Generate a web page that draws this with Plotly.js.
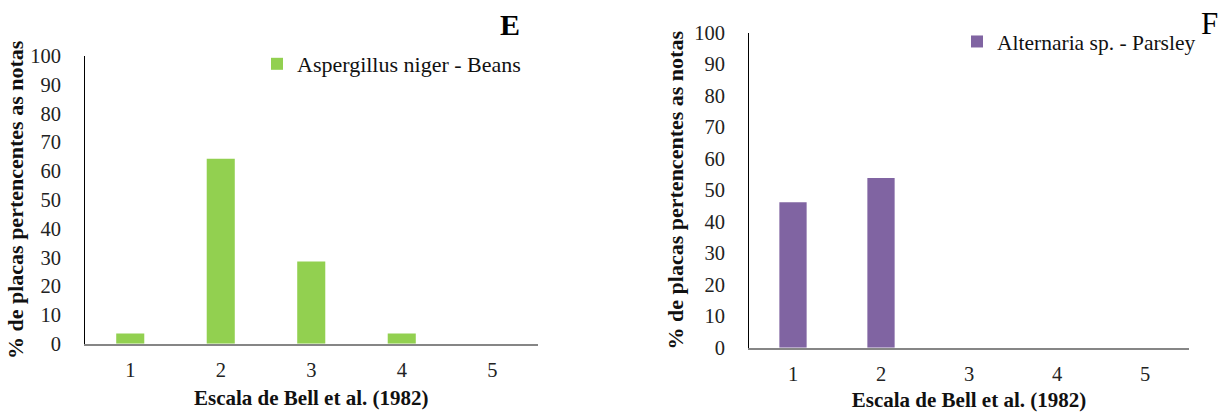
<!DOCTYPE html>
<html>
<head>
<meta charset="utf-8">
<script src="https://cdn.plot.ly/plotly-3.0.1.min.js"></script>
<style>html,body{margin:0;padding:0;background:#fff;}#chart{width:1218px;height:412px;}</style>
</head>
<body>
<div id="chart"></div>
<script>
const categories = ["1", "2", "3", "4", "5"];
const nigerBeans = [3.57, 64.29, 28.57, 3.57, 0];
const alternariaParsley = [46.15, 53.85, 0, 0, 0];
const seriesNames = ["Aspergillus niger - Beans", "Alternaria sp. - Parsley"];
const yTicks = [0, 10, 20, 30, 40, 50, 60, 70, 80, 90, 100];
const xTitle = "Escala de Bell et al. (1982)";
const yTitle = "% de placas pertencentes as notas";
const panelLabels = ["E", "F"];

const W = 1218, H = 412;
const FONT = "'Liberation Serif', 'Times New Roman', serif";

const traces = [
  {type: "bar", x: categories, y: nigerBeans, name: seriesNames[0],
   marker: {color: "#92D050"}, xaxis: "x", yaxis: "y", legend: "legend", hoverinfo: "x+y"},
  {type: "bar", x: categories, y: alternariaParsley, name: seriesNames[1],
   marker: {color: "#8064A2"}, xaxis: "x2", yaxis: "y2", legend: "legend2", hoverinfo: "x+y"}
];

function xAxis(domain, anchor, standoff) {
  return {
    domain: domain, anchor: anchor, type: "category", range: [-0.5, 4.5],
    showline: true, linecolor: "#868686", linewidth: 2,
    showgrid: false, zeroline: false,
    ticks: "outside", ticklen: 7, tickcolor: "rgba(0,0,0,0)",
    tickfont: {family: FONT, size: 20.5, color: "#222"},
    title: {text: xTitle, font: {family: FONT, size: 21, color: "#111", weight: "bold"}, standoff: standoff},
    fixedrange: true
  };
}
function yAxis(domain, anchor, standoff) {
  return {
    domain: domain, anchor: anchor, range: [0, 100],
    tickvals: yTicks, ticktext: yTicks.map(String),
    showline: true, linecolor: "#000", linewidth: 1,
    showgrid: false, zeroline: false,
    ticks: "outside", ticklen: 19, tickcolor: "rgba(0,0,0,0)",
    tickfont: {family: FONT, size: 20.5, color: "#222"},
    title: {text: yTitle, font: {family: FONT, size: 22, color: "#111", weight: "bold"}, standoff: standoff},
    fixedrange: true
  };
}

const layout = {
  width: W, height: H,
  margin: {l: 0, r: 0, t: 0, b: 0},
  paper_bgcolor: "#fff", plot_bgcolor: "#fff",
  bargap: 0.69,
  showlegend: true,
  font: {family: FONT},
  xaxis: xAxis([85 / W, 537.5 / W], "y", 10),
  yaxis: yAxis([68.3 / H, 356 / H], "x", 0),
  xaxis2: xAxis([749 / W, 1189 / W], "y2", 13),
  yaxis2: yAxis([64.3 / H, 379.3 / H], "x2", 4),
  legend: {x: 257 / W, y: 1 - 43 / H, xanchor: "left", yanchor: "top",
           font: {family: FONT, size: 22, color: "#111"}, bgcolor: "rgba(0,0,0,0)"},
  legend2: {x: 957 / W, y: 1 - 21 / H, xanchor: "left", yanchor: "top",
            font: {family: FONT, size: 21.5, color: "#111"}, bgcolor: "rgba(0,0,0,0)"},
  annotations: [
    {text: panelLabels[0], xref: "paper", yref: "paper", x: 510 / W, y: 1 - 25 / H,
     xanchor: "center", yanchor: "middle", showarrow: false,
     font: {family: FONT, size: 30, color: "#000", weight: "bold"}},
    {text: panelLabels[1], xref: "paper", yref: "paper", x: 1209 / W, y: 1 - 24 / H,
     xanchor: "center", yanchor: "middle", showarrow: false,
     font: {family: FONT, size: 31, color: "#000"}}
  ]
};

Plotly.newPlot("chart", traces, layout, {displayModeBar: false, responsive: false});
</script>
</body>
</html>
